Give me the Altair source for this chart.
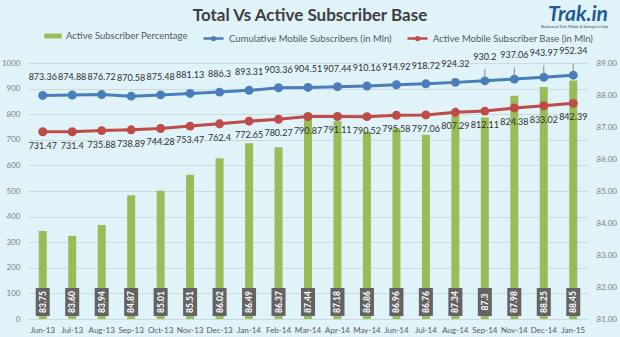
import altair as alt
import pandas as pd

months = ["Jun-13", "Jul-13", "Aug-13", "Sep-13", "Oct-13", "Nov-13", "Dec-13", "Jan-14",
          "Feb-14", "Mar-14", "Apr-14", "May-14", "Jun-14", "Jul-14", "Aug-14", "Sep-14",
          "Oct-14", "Nov-14", "Dec-14", "Jan-15"]
active_pct = [83.75, 83.60, 83.94, 84.87, 85.01, 85.51, 86.02, 86.49, 86.37, 87.44,
              87.18, 86.86, 86.96, 86.76, 87.34, 87.3, None, 87.98, 88.25, 88.45]
active_pct_labels = ["83.75", "83.60", "83.94", "84.87", "85.01", "85.51", "86.02", "86.49",
                     "86.37", "87.44", "87.18", "86.86", "86.96", "86.76", "87.34", "87.3",
                     None, "87.98", "88.25", "88.45"]
cumulative = [873.36, 874.88, 876.72, 870.58, 875.48, 881.13, 886.3, 893.31, 903.36, 904.51,
              907.44, 910.16, 914.92, 918.72, 924.32, 930.2, None, 937.06, 943.97, 952.34]
active_base = [731.47, 731.4, 735.88, 738.89, 744.28, 753.47, 762.4, 772.65, 780.27, 790.87,
               791.11, 790.52, 795.58, 797.06, 807.29, 812.11, None, 824.38, 833.02, 842.39]
raised_months = ["Sep-14", "Nov-14", "Dec-14", "Jan-15"]

TITLE = "Total Vs Active Subscriber Base"
S_PCT = "Active Subscriber Percentage"
S_CUM = "Cumulative Mobile Subscribers (in Mln)"
S_ACT = "Active Mobile Subscriber Base (in Mln)"

GREEN = "#9bbb59"
BLUE = "#4a7ebb"
RED = "#be4b48"
FONT = "Lato"

bars_df = pd.DataFrame({"month": months, "pct": active_pct, "label": active_pct_labels,
                        "series": S_PCT}).dropna()

rows = []
for m, c, a in zip(months, cumulative, active_base):
    if c is not None:
        rows.append({"month": m, "series": S_CUM, "value": c, "raised": m in raised_months})
    if a is not None:
        rows.append({"month": m, "series": S_ACT, "value": a, "raised": False})
lines_df = pd.DataFrame(rows)

xenc = alt.X("month:N", sort=months, title=None,
             scale=alt.Scale(paddingInner=0.7, paddingOuter=0.35),
             axis=alt.Axis(labelAngle=0, labelColor="#595959", labelFontSize=8, labelFont=FONT,
                           domain=False, ticks=False, labelPadding=7, labelOverlap=False))

yright = alt.Y("pct:Q", title=None, scale=alt.Scale(domain=[81, 89], nice=False),
               axis=alt.Axis(orient="right", values=list(range(81, 90)), format=".2f",
                             grid=False, domain=False, ticks=False, labelColor="#7f7f7f",
                             labelFontSize=8, labelFont=FONT, labelPadding=8))

bars = alt.Chart(bars_df).mark_bar(size=8).encode(
    x=xenc,
    y=yright,
    y2=alt.Y2(datum=81),
    fill=alt.Fill("series:N", scale=alt.Scale(domain=[S_PCT], range=[GREEN]),
                  legend=alt.Legend(title=None, orient="none", legendX=16, legendY=-36,
                                    symbolType="M-1,-0.28L1,-0.28L1,0.28L-1,0.28Z",
                                    symbolSize=300, labelFont=FONT, labelFontSize=9.5,
                                    labelColor="#595959", symbolStrokeWidth=0,
                                    labelLimit=300)),
)

boxes = alt.Chart(bars_df).mark_point(
    shape="M-0.5,-1L0.5,-1L0.5,1L-0.5,1Z", filled=True, color="#636363", opacity=1, size=784
).encode(x=xenc, y=alt.value(239))

box_text = alt.Chart(bars_df).mark_text(
    angle=270, color="white", fontSize=8.5, fontWeight="bold", font=FONT
).encode(x=xenc, y=alt.value(239), text="label:N")

bar_layer = alt.layer(bars, boxes, box_text)

left_axis = alt.Axis(orient="left", values=list(range(0, 1001, 100)), grid=True,
                     gridColor="#cfd8dc", domain=False, ticks=False, format="d",
                     labelColor="#7f7f7f", labelFontSize=8, labelFont=FONT,
                     labelPadding=8, labelOverlap=False)
left_scale = alt.Scale(domain=[0, 1000], nice=False)
yleft = alt.Y("value:Q", title=None, scale=left_scale, axis=left_axis)

line_legend = alt.Legend(
    title=None, orient="none", legendX=174, legendY=-36, direction="horizontal",
    symbolType="M-1,0L1,0M-0.14,0A0.14,0.14,0,1,1,0.14,0A0.14,0.14,0,1,1,-0.14,0Z",
    symbolSize=400, symbolStrokeWidth=2.5, labelFont=FONT, labelFontSize=9.5,
    labelColor="#595959", columnPadding=10, labelLimit=300,
)
cenc = alt.Color("series:N", scale=alt.Scale(domain=[S_CUM, S_ACT], range=[BLUE, RED]),
                 legend=line_legend)

lines = alt.Chart(lines_df).mark_line(strokeWidth=3).encode(x=xenc, y=yleft, color=cenc,
                                                           detail="series:N")
points = alt.Chart(lines_df).mark_circle(size=80, opacity=1).encode(x=xenc, y=yleft, color=cenc)

LBL = dict(fontSize=9, color="#303030", font=FONT)

cum_labels = alt.Chart(lines_df).transform_filter(
    (alt.datum.series == S_CUM) & (~alt.datum.raised)
).mark_text(dy=-18, **LBL).encode(x=xenc, y=yleft, text="value:Q")

cum_raised = alt.Chart(lines_df).transform_filter(
    (alt.datum.series == S_CUM) & alt.datum.raised
).mark_text(dy=-24, **LBL).encode(x=xenc, y=yleft, text="value:Q")

leaders = alt.Chart(lines_df).transform_filter(
    (alt.datum.series == S_CUM) & alt.datum.raised
).transform_calculate(
    y1="datum.value + 9", y2="datum.value + 46"
).mark_rule(color="#8c8c8c", strokeWidth=1).encode(
    x=xenc, y=alt.Y("y1:Q", title=None, scale=left_scale, axis=left_axis), y2="y2:Q")

act_labels = alt.Chart(lines_df).transform_filter(
    alt.datum.series == S_ACT
).mark_text(dy=14, **LBL).encode(x=xenc, y=yleft, text="value:Q")

line_layer = alt.layer(lines, points, leaders, cum_labels, cum_raised, act_labels)

title = alt.Chart(pd.DataFrame({"t": [TITLE]})).mark_text(
    font=FONT, fontSize=17, fontWeight="bold", color="#404040", align="center",
    baseline="middle"
).encode(x=alt.value(282), y=alt.value(-47), text="t:N")

logo = alt.Chart(pd.DataFrame({"t": ["Trak.in"]})).mark_text(
    font=FONT, fontSize=21, fontWeight="bold", fontStyle="italic", color="#1f5b94",
    align="right", baseline="middle"
).encode(x=alt.value(580), y=alt.value(-48), text="t:N")

logo_sub = alt.Chart(pd.DataFrame({"t": ["Business of Tech, Mobile & Startups in India"]})).mark_text(
    font=FONT, fontSize=3.5, color="#404040", align="right", baseline="middle"
).encode(x=alt.value(580), y=alt.value(-36), text="t:N")

chart = alt.layer(bar_layer, line_layer, title, logo, logo_sub).resolve_scale(
    y="independent", color="independent"
).properties(
    width=560, height=256,
    autosize=alt.AutoSizeParams(type="none"),
    padding={"left": 28, "top": 63, "right": 32, "bottom": 18},
    background="#dff3f8",
).configure_view(stroke=None)

chart.save("out.html", embed_options={"renderer": "svg", "actions": False})
